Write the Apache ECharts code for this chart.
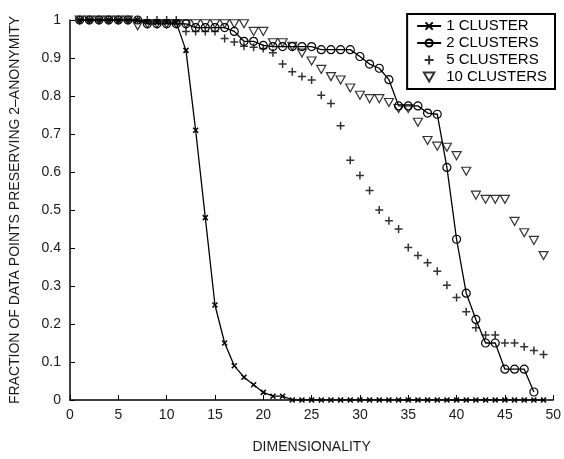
<!DOCTYPE html>
<html>
<head>
<meta charset="utf-8">
<script src="https://cdn.jsdelivr.net/npm/echarts@6/dist/echarts.min.js"></script>
<style>
  html, body { margin: 0; padding: 0; background: #fff; }
  #chart { width: 564px; height: 459px; }
</style>
</head>
<body>
<div id="chart"></div>
<script>
// dimensionality on the x axis
const dims = [1, 2, 3, 4, 5, 6, 7, 8, 9, 10, 11, 12, 13, 14, 15, 16, 17, 18, 19, 20,
  21, 22, 23, 24, 25, 26, 27, 28, 29, 30, 31, 32, 33, 34, 35, 36, 37, 38, 39, 40,
  41, 42, 43, 44, 45, 46, 47, 48, 49]

const oneCluster = [1, 1, 1, 1, 1, 1, 1, 0.995, 0.995, 0.995, 0.993, 0.92, 0.71, 0.48, 0.25, 0.15, 0.09, 0.06, 0.04, 0.02,
  0.01, 0.01, 0, 0, 0, 0, 0, 0, 0, 0, 0, 0, 0, 0, 0, 0, 0, 0, 0, 0,
  0, 0, 0, 0, 0, 0, 0, 0, 0]

const twoClusters = [1, 1, 1, 1, 1, 1, 1, 0.99, 0.99, 0.99, 0.99, 0.99, 0.98, 0.98, 0.98, 0.98, 0.97, 0.944, 0.944, 0.933,
  0.93, 0.93, 0.93, 0.93, 0.93, 0.922, 0.922, 0.922, 0.922, 0.904, 0.884, 0.873, 0.843, 0.774, 0.774, 0.774, 0.755, 0.752, 0.612, 0.423,
  0.281, 0.212, 0.15, 0.15, 0.081, 0.081, 0.081, 0.021, null]

const fiveClusters = [1, 1, 1, 1, 1, 1, 1, 1, 1, 1, 1, 0.97, 0.97, 0.97, 0.97, 0.951, 0.942, 0.931, 0.928, 0.925,
  0.914, 0.884, 0.864, 0.851, 0.842, 0.802, 0.78, 0.722, 0.631, 0.591, 0.551, 0.5, 0.472, 0.45, 0.401, 0.38, 0.361, 0.339, 0.302, 0.27,
  0.232, 0.19, 0.171, 0.171, 0.15, 0.15, 0.14, 0.13, 0.12]

const tenClusters = [1, 1, 1, 1, 1, 1, 0.985, 0.99, 0.99, 0.99, 0.99, 0.99, 0.99, 0.99, 0.99, 0.99, 0.99, 0.99, 0.97, 0.97,
  0.94, 0.94, 0.931, 0.913, 0.892, 0.87, 0.851, 0.842, 0.821, 0.802, 0.793, 0.793, 0.783, 0.767, 0.767, 0.731, 0.683, 0.668, 0.665, 0.643,
  0.602, 0.539, 0.528, 0.528, 0.528, 0.47, 0.44, 0.42, 0.38]

const names = ['1 CLUSTER', '2 CLUSTERS', '5 CLUSTERS', '10 CLUSTERS']

const pairs = (ys) => dims.map((d, i) => [d, ys[i]])

const font = 'Liberation Sans, Arial, Helvetica, sans-serif'
const ink = '#1a1a1a'

const crossSym = 'path://M0,0L10,10M0,10L10,0'
const plusSym = 'path://M5,0L5,10M0,5L10,5'
const triDownSym = 'path://M0,0L10,0L5,8.66Z'

const hollow = { color: 'transparent', borderColor: '#000', borderWidth: 1.2 }

const chart = echarts.init(document.getElementById('chart'), null, { renderer: 'canvas' })
chart.setOption({
  animation: false,
  backgroundColor: '#fff',
  grid: { left: 65, right: 9, top: 20, bottom: 53 },
  legend: {
    orient: 'vertical',
    right: 9,
    top: 14,
    itemWidth: 24,
    itemHeight: 9,
    itemGap: 1,
    padding: [4, 8, 4, 9],
    borderColor: '#000',
    borderWidth: 2,
    textStyle: { fontFamily: font, fontSize: 15, color: '#000', lineHeight: 16 },
    data: names
  },
  xAxis: {
    type: 'value',
    min: 0,
    max: 50,
    interval: 5,
    name: 'DIMENSIONALITY',
    nameLocation: 'middle',
    nameGap: 40,
    nameTextStyle: { fontFamily: font, fontSize: 14, color: ink },
    axisLine: { lineStyle: { color: '#000', width: 1.5 } },
    axisTick: { inside: true, length: 5, lineStyle: { color: '#000', width: 1 } },
    axisLabel: { fontFamily: font, fontSize: 14, color: ink, margin: 8 },
    splitLine: { show: false }
  },
  yAxis: {
    type: 'value',
    min: 0,
    max: 1,
    interval: 0.1,
    name: 'FRACTION OF DATA POINTS PRESERVING 2\u2013ANONYMITY',
    nameLocation: 'middle',
    nameGap: 48,
    nameTextStyle: { fontFamily: font, fontSize: 14, color: ink },
    axisLine: { lineStyle: { color: '#000', width: 1.5 } },
    axisTick: { inside: true, length: 5, lineStyle: { color: '#000', width: 1 } },
    axisLabel: { fontFamily: font, fontSize: 14, color: ink, margin: 9 },
    splitLine: { show: false }
  },
  series: [
    {
      name: names[0],
      type: 'line',
      data: pairs(oneCluster),
      symbol: crossSym,
      symbolSize: 5,
      showAllSymbol: true,
      lineStyle: { color: '#000', width: 1.3 },
      itemStyle: { color: 'transparent', borderColor: '#000', borderWidth: 1.5 },
      z: 4
    },
    {
      name: names[1],
      type: 'line',
      data: pairs(twoClusters),
      symbol: 'circle',
      symbolSize: 8,
      showAllSymbol: true,
      lineStyle: { color: '#000', width: 1.3 },
      itemStyle: hollow,
      z: 3
    },
    {
      name: names[2],
      type: 'scatter',
      data: pairs(fiveClusters),
      symbol: plusSym,
      symbolSize: 8,
      itemStyle: { color: 'transparent', borderColor: '#000', borderWidth: 1.5 },
      z: 2
    },
    {
      name: names[3],
      type: 'scatter',
      data: pairs(tenClusters),
      symbol: triDownSym,
      symbolSize: [9, 8],
      itemStyle: hollow,
      z: 2
    }
  ]
})
</script>
</body>
</html>
